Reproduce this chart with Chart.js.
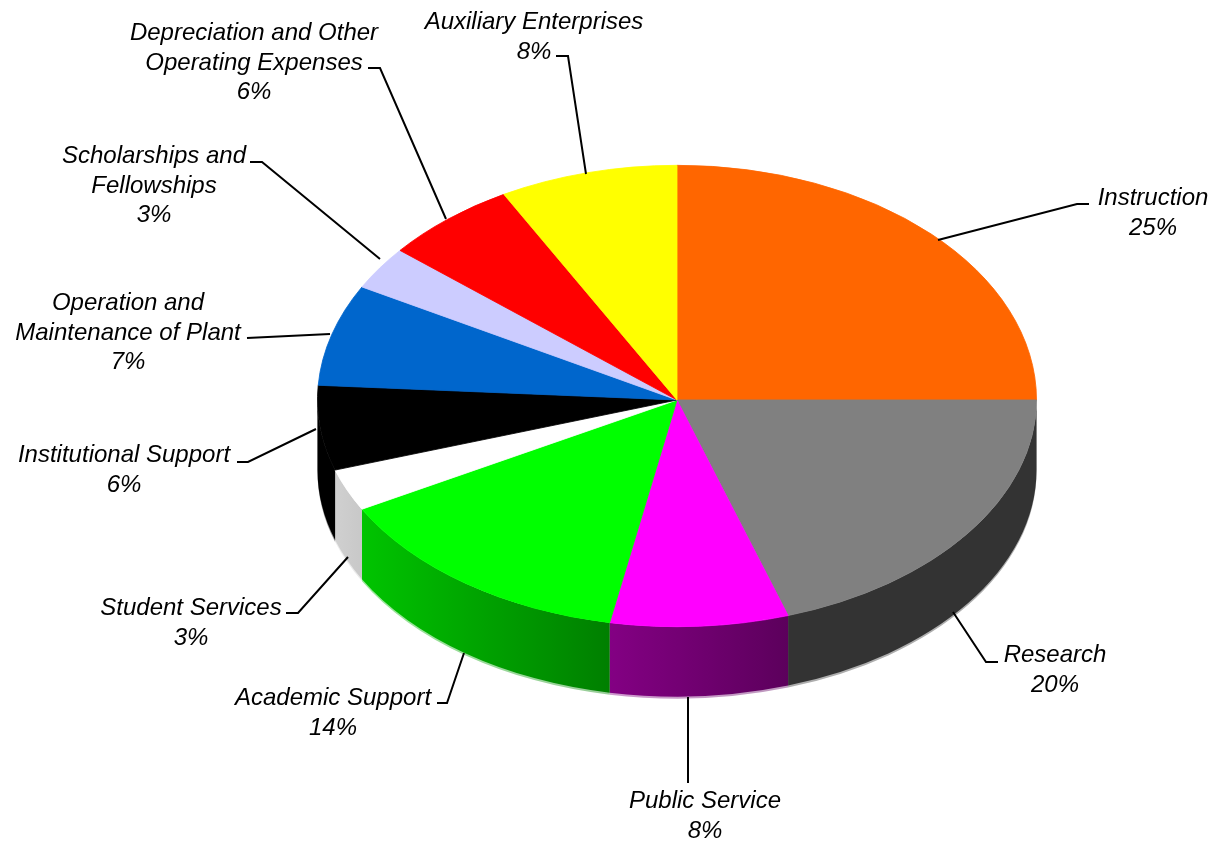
<!DOCTYPE html>
<html>
<head>
<meta charset="utf-8">
<style>
  html, body { margin: 0; padding: 0; background: #fff; }
  #wrap { position: relative; width: 1216px; height: 843px; }
</style>
<script src="https://cdn.jsdelivr.net/npm/chart.js@4"></script>
</head>
<body>
<div id="wrap"><canvas id="my-chart" width="1216" height="843"></canvas></div>
<script>
const categories = ['Instruction', 'Research', 'Public Service', 'Academic Support', 'Student Services',
  'Institutional Support', 'Operation and Maintenance of Plant', 'Scholarships and Fellowships',
  'Depreciation and Other Operating Expenses', 'Auxiliary Enterprises'];
const shares = [25, 20, 8, 14, 3, 6, 7, 3, 6, 8];
const topColors = ['#ff6600', '#808080', '#ff00ff', '#00ff00', '#ffffff', '#000000', '#0066cc', '#ccccff', '#ff0000', '#ffff00'];
// side wall shading, left edge to right edge of each slice
const wallLeft = ['#b34700', '#333333', '#830083', '#00c400', '#d0d0d0', '#000000', '#004a99', '#9999cc', '#b30000', '#b3b300'];
const wallRight = ['#b34700', '#333333', '#5c005c', '#007f00', '#c8c8c8', '#000000', '#004a99', '#9999cc', '#b30000', '#b3b300'];

// wrapped label text, in the same order as categories
const labelLines = [['Instruction'], ['Research'], ['Public Service'], ['Academic Support'], ['Student Services'],
  ['Institutional Support'], ['Operation and', 'Maintenance of Plant'], ['Scholarships and', 'Fellowships'],
  ['Depreciation and Other', 'Operating Expenses'], ['Auxiliary Enterprises']];

// callout layout: x centre, first baseline y, then the leader polyline
const callouts = [
  { x: 1153, y: 205, leader: [[1089, 204], [1077, 204], [938, 240]] },
  { x: 1055, y: 662, leader: [[998, 662], [986, 662], [953, 612]] },
  { x: 705, y: 808, leader: [[688, 783], [688, 697]] },
  { x: 333, y: 705, leader: [[437, 703], [447, 703], [464, 653]] },
  { x: 191, y: 615, leader: [[286, 613], [298, 613], [348, 557]] },
  { x: 124, y: 462, leader: [[237, 462], [248, 462], [316, 429]] },
  { x: 128, y: 310, leader: [[247, 338], [330, 334]] },
  { x: 154, y: 163, leader: [[250, 162], [262, 162], [380, 259]] },
  { x: 254, y: 40, leader: [[368, 68], [380, 68], [446, 219]] },
  { x: 534, y: 29, leader: [[556, 56], [568, 56], [586, 174]] },
];

const tiltTop = 235 / 360;    // squash of the far half of the disc
const tiltBottom = 227 / 360; // squash of the near half
const depth = 70;
const lineHeight = 29.5;

// draws the disc squashed into an ellipse, with a wall under the near half
const tiltedPie = {
  id: 'tiltedPie',
  beforeDatasetsDraw(chart) {
    const ctx = chart.ctx;
    const arcs = chart.getDatasetMeta(0).data;
    const cx = arcs[0].x, cy = arcs[0].y, r = arcs[0].outerRadius;

    arcs.forEach((arc, i) => {
      const a0 = Math.max(arc.startAngle, 0);
      const a1 = Math.min(arc.endAngle, Math.PI);
      if (a1 <= a0) return;
      const ry = r * tiltBottom;
      const wall = (extra) => {
        ctx.beginPath();
        ctx.ellipse(cx, cy, r, ry, 0, a0, a1);
        ctx.ellipse(cx, cy + depth + extra, r, ry, 0, a1, a0, true);
        ctx.closePath();
      };
      const xl = cx + r * Math.cos(a1), xr = cx + r * Math.cos(a0);
      const grad = ctx.createLinearGradient(xl, 0, xr, 0);
      grad.addColorStop(0, wallLeft[i]);
      grad.addColorStop(1, wallRight[i]);
      ctx.save();
      ctx.fillStyle = grad;
      ctx.globalAlpha = 0.4;
      wall(2);
      ctx.fill();
      ctx.globalAlpha = 1;
      wall(0);
      ctx.fill();
      ctx.restore();
    });

    // far half and near half get their own squash, joined at the hub line
    [[tiltTop, 0, cy], [tiltBottom, cy, chart.height - cy]].forEach(([tilt, top, h]) => {
      ctx.save();
      ctx.beginPath();
      ctx.rect(0, top, chart.width, h);
      ctx.clip();
      ctx.translate(cx, cy);
      ctx.scale(1, tilt);
      ctx.translate(-cx, -cy);
      arcs.forEach((arc) => arc.draw(ctx));
      ctx.restore();
    });
    return false;
  },
  afterDraw(chart) {
    const ctx = chart.ctx;
    ctx.save();
    ctx.strokeStyle = '#000';
    ctx.lineWidth = 2;
    callouts.forEach((c) => {
      ctx.beginPath();
      c.leader.forEach(([x, y], j) => (j ? ctx.lineTo(x, y) : ctx.moveTo(x, y)));
      ctx.stroke();
    });
    ctx.fillStyle = '#000';
    ctx.font = 'italic 24px "Liberation Sans"';
    ctx.textAlign = 'center';
    callouts.forEach((c, i) => {
      const rows = labelLines[i].concat(shares[i] + '%');
      rows.forEach((row, j) => ctx.fillText(row, c.x, c.y + j * lineHeight));
    });
    ctx.restore();
  },
};

new Chart(document.getElementById('my-chart'), {
  type: 'pie',
  data: {
    labels: categories,
    datasets: [{
      data: shares,
      backgroundColor: topColors,
      borderColor: topColors,
      borderWidth: 1,
    }],
  },
  options: {
    responsive: false,
    animation: false,
    events: [],
    layout: { padding: { left: 317, right: 179, top: 40, bottom: 83 } },
    plugins: { legend: { display: false }, tooltip: { enabled: false } },
  },
  plugins: [tiltedPie],
});
</script>
</body>
</html>
